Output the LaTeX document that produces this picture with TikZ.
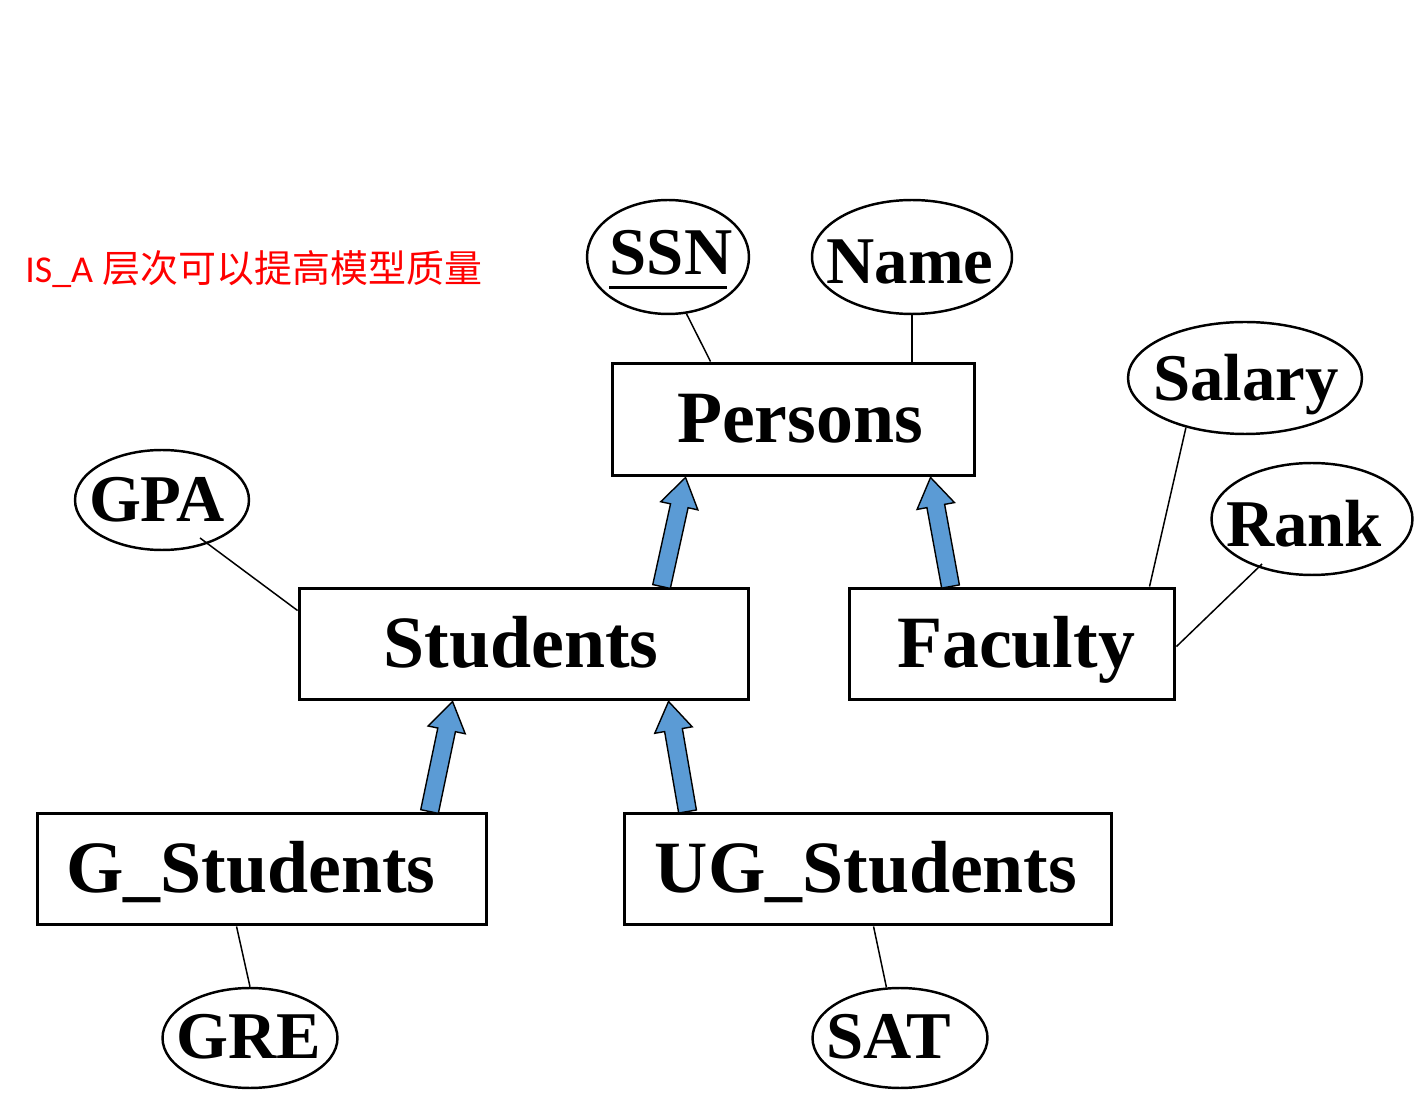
\documentclass[tikz,border=0pt]{standalone}
\usepackage{fontspec}
\setmainfont{Liberation Serif}
\newfontfamily\cjkfont{Noto Sans CJK SC}
\newfontfamily\carlfont{Carlito}
\usetikzlibrary{shapes.geometric,calc}
\definecolor{arrowblue}{HTML}{5B9BD5}
\newcommand\myblockarrow[2]{%
  \coordinate (hb) at ($(#2)!0.58cm!(#1)$);
  \filldraw[isaarrow] ($(#1)!0.18cm!90:(#2)$) -- ($(hb)!0.18cm!90:(#2)$) -- ($(hb)!0.38cm!90:(#2)$) -- (#2) -- ($(hb)!0.38cm!-90:(#2)$) -- ($(hb)!0.18cm!-90:(#2)$) -- ($(#1)!0.18cm!-90:(#2)$) -- cycle;}
\begin{document}
\begin{tikzpicture}[x=0.02cm,y=-0.02cm,
  ent/.style={draw,line width=1.7pt,inner sep=0pt,rectangle},
  attr/.style={draw,ellipse,line width=1.4pt,inner sep=0pt},
  enttext/.style={font=\bfseries\fontsize{42}{46}\selectfont,inner sep=0pt,text height=0.98cm,text depth=0pt},
  attrtext/.style={font=\bfseries\fontsize{38}{42}\selectfont,inner sep=0pt,text height=0.88cm,text depth=0pt},
  conn/.style={line width=0.85pt},
  isaarrow/.style={fill=arrowblue,draw=black,line width=0.8pt,line join=miter}]
\useasboundingbox (0,0) rectangle (1421,1114);

% title
\node[anchor=base west,inner sep=0pt,text=red,font=\fontsize{21.6}{26}\selectfont] (title) at (25,283) {{\carlfont IS\_A} {\cjkfont 层次可以提高模型质量}};

% entities
\node[ent,minimum width=7.26cm,minimum height=2.26cm] (persons) at (793.5,419.5) {};
\node[ent,minimum width=9.0cm,minimum height=2.24cm] (students) at (524,644) {};
\node[ent,minimum width=6.52cm,minimum height=2.24cm] (faculty) at (1012,644) {};
\node[ent,minimum width=9.0cm,minimum height=2.24cm] (gstud) at (262,869) {};
\node[ent,minimum width=9.76cm,minimum height=2.24cm] (ugstud) at (868,869) {};

\node[enttext] (personst) at (800,418) {Persons};
\node[enttext] (studentst) at (521,643) {Students};
\node[enttext] (facultyt) at (1016,643) {Faculty};
\node[enttext] (gstudt) at (251,868) {G\_Students};
\node[enttext] (ugstudt) at (866,868) {UG\_Students};

% attributes
\node[attr,minimum width=3.24cm,minimum height=2.28cm] (ssn) at (668,257) {};
\node[attr,minimum width=4.0cm,minimum height=2.28cm] (nameattr) at (912,257) {};
\node[attr,minimum width=3.48cm,minimum height=2.0cm] (gpa) at (162,500) {};
\node[attr,minimum width=4.68cm,minimum height=2.24cm] (salary) at (1245,378) {};
\node[attr,minimum width=4.02cm,minimum height=2.24cm] (rank) at (1312,519) {};
\node[attr,minimum width=3.5cm,minimum height=2.0cm] (gre) at (250,1038) {};
\node[attr,minimum width=3.5cm,minimum height=2.0cm] (sat) at (900,1038) {};

\node[attrtext] (ssnt) at (671,252.5) {SSN};
\node[attrtext] (namet) at (910,261.5) {Name};
\node[attrtext] (gpat) at (157,500) {GPA};
\node[attrtext] (salaryt) at (1246,379) {Salary};
\node[attrtext] (rankt) at (1304,525) {Rank};
\node[attrtext] (gret) at (249,1037) {GRE};
\node[attrtext] (satt) at (889,1037) {SAT};
\draw[line width=1.5pt] ($(ssnt.base west)+(0,13)$) -- ($(ssnt.base east)+(-6,13)$);

% attribute connectors
\draw[conn] (ssn.-72) -- ($(persons.north west)+(100,0)$);
\draw[conn] (nameattr.south) -- (nameattr.south |- persons.north);
\draw[conn] ($(gpa)+(38,38)$) -- ($(students.north west)+(0,24)$);
\draw[conn] (salary.-140) -- ($(faculty.north west)+(302,0)$);
\draw[conn] ($(rank)+(-50,45)$) -- ($(faculty.north east)+(0,60)$);
\draw[conn] (gre.north) -- ($(gstud.south west)+(201,0)$);
\draw[conn] (sat.105) -- ($(ugstud.south west)+(251,0)$);

% IS_A arrows
\coordinate (a1) at ($(students.north west)+(364,0)$);
\coordinate (t1) at ($(persons.south west)+(75,0)$);
\coordinate (a2) at ($(faculty.north west)+(103,0)$);
\coordinate (t2) at ($(persons.south west)+(320,0)$);
\coordinate (a3) at ($(gstud.north west)+(394,0)$);
\coordinate (t3) at ($(students.south west)+(155,0)$);
\coordinate (a4) at ($(ugstud.north west)+(65,0)$);
\coordinate (t4) at ($(students.south west)+(371,0)$);
\myblockarrow{a1}{t1}
\myblockarrow{a2}{t2}
\myblockarrow{a3}{t3}
\myblockarrow{a4}{t4}
\end{tikzpicture}
\end{document}
